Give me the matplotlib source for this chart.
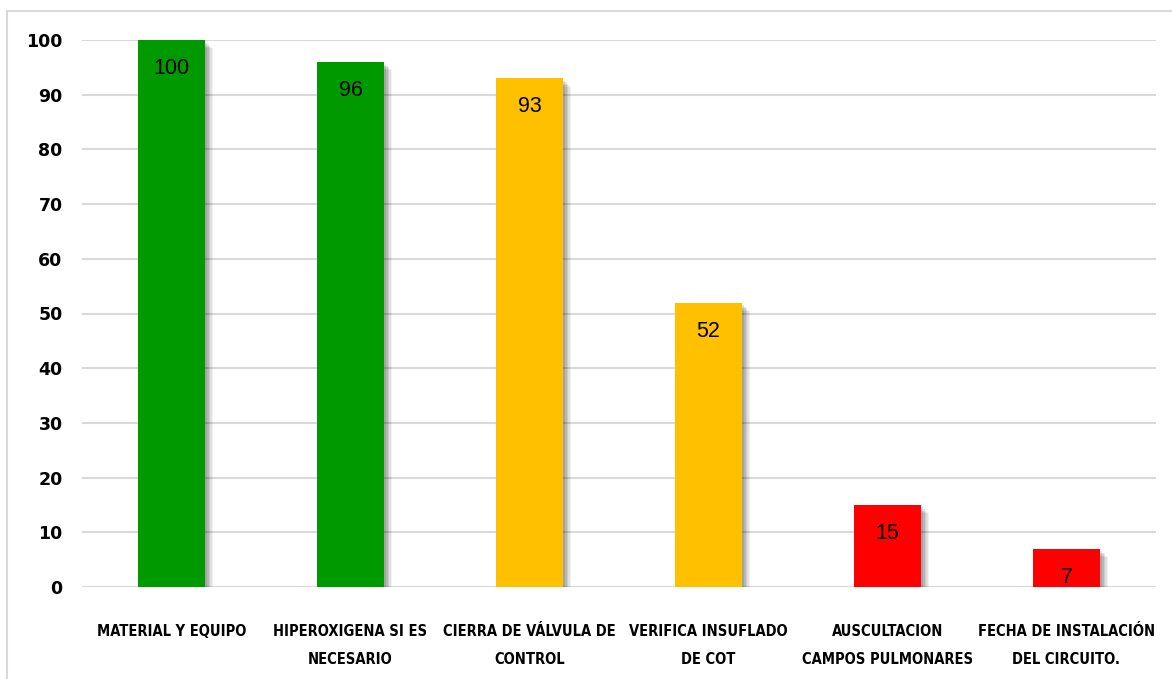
import matplotlib
matplotlib.use("Agg")
import matplotlib.pyplot as plt
import matplotlib.patheffects as pe
from matplotlib.patches import Rectangle

categories = ["MATERIAL Y EQUIPO", "HIPEROXIGENA SI ES\nNECESARIO",
              "CIERRA DE VÁLVULA DE\nCONTROL", "VERIFICA INSUFLADO\nDE COT",
              "AUSCULTACION\nCAMPOS PULMONARES", "FECHA DE INSTALACIÓN\nDEL CIRCUITO."]
values = [100, 96, 93, 52, 15, 7]
bar_colors = ["#009900", "#009900", "#FFC000", "#FFC000", "#FF0000", "#FF0000"]
yticks = [0, 10, 20, 30, 40, 50, 60, 70, 80, 90, 100]

fig = plt.figure(figsize=(11.72, 6.79), dpi=100)
ax = fig.add_axes([82/1172, 92/679, (1156-82)/1172, (587-40)/679])

x = list(range(len(categories)))
shadow = [pe.SimplePatchShadow(offset=(o, -o), shadow_rgbFace="#000000", alpha=a)
          for o, a in [(6, 0.05), (5, 0.07), (4, 0.09), (3, 0.1), (2, 0.1)]]
bars = ax.bar(x, values, width=0.37, color=bar_colors, zorder=3,
              path_effects=shadow + [pe.Normal()])

for xi, v in zip(x, values):
    ax.annotate(str(v), (xi, v), xytext=(0, -20.5), textcoords="offset points",
                ha="center", va="center", fontsize=15.5, color="#000000",
                family="Liberation Sans", zorder=5)

ax.set_xlim(-0.5, len(categories) - 0.5)
ax.set_ylim(0, 100)
ax.set_yticks(yticks)
ax.set_yticklabels([str(t) for t in yticks], fontsize=12.5, fontweight="bold",
                   family="DejaVu Sans")
ax.set_xticks(x)
ax.set_xticklabels(categories, fontsize=10.5, fontweight="bold",
                   family="DejaVu Sans", fontstretch="condensed", linespacing=2.05,
                   va="top")
ax.tick_params(axis="both", length=0)
ax.tick_params(axis="y", pad=14)
ax.tick_params(axis="x", pad=27)
ax.yaxis.grid(True, color="#d9d9d9", linewidth=1.5, zorder=0)
ax.set_axisbelow(True)
for s in ax.spines.values():
    s.set_visible(False)

fig.patches.append(Rectangle((7/1172, -0.05), 1.1, 0.05 + 668/679,
                             transform=fig.transFigure, fill=False,
                             edgecolor="#d9d9d9", linewidth=1.5))

fig.savefig("out.png", dpi=100)
